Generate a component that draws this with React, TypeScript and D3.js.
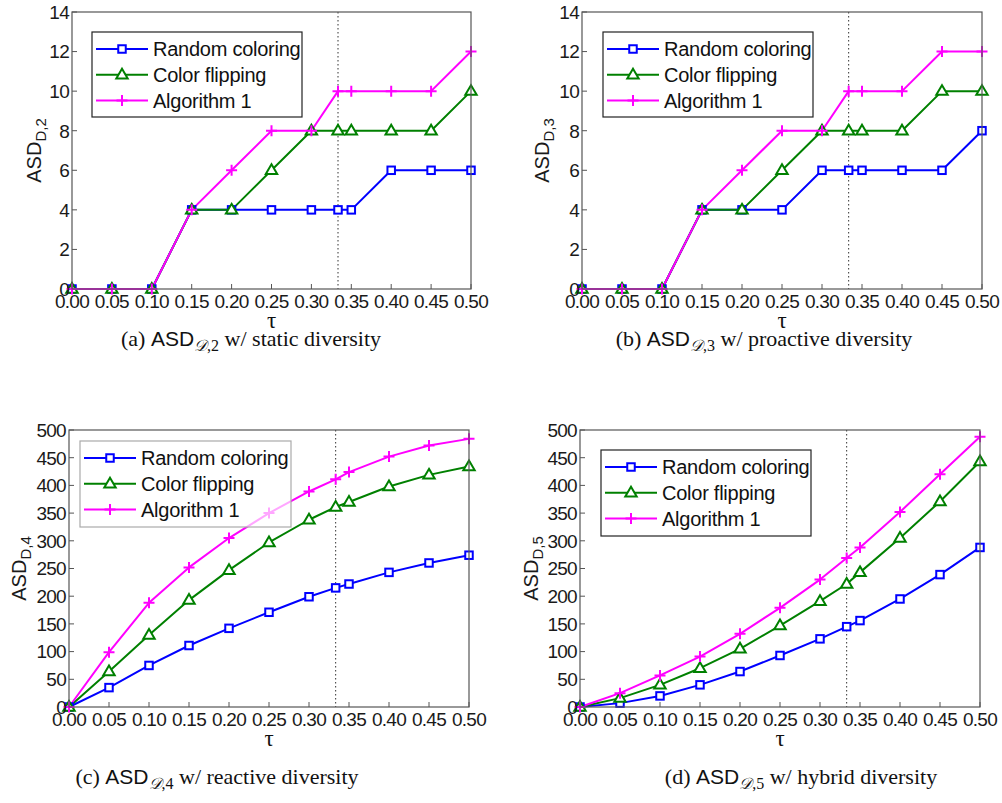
import React from "react";
import * as d3 from "d3";

// tau values at which every scheme was evaluated (1/3 is the marked threshold)
const TAU = [0, 0.05, 0.1, 0.15, 0.2, 0.25, 0.3, 1 / 3, 0.35, 0.4, 0.45, 0.5];
const X_TICKS = [0, 0.05, 0.1, 0.15, 0.2, 0.25, 0.3, 0.35, 0.4, 0.45, 0.5];
const THRESHOLD = 1 / 3;

const SERIES_NAMES = ["Random coloring", "Color flipping", "Algorithm 1"];
const SERIES_COLORS = ["#0000ff", "#008000", "#ff00ff"];
const SERIES_MARKERS = ["square", "triangle", "plus"];

// (a) static diversity
const A_RANDOM = [0, 0, 0, 4, 4, 4, 4, 4, 4, 6, 6, 6];
const A_FLIP = [0, 0, 0, 4, 4, 6, 8, 8, 8, 8, 8, 10];
const A_ALGO = [0, 0, 0, 4, 6, 8, 8, 10, 10, 10, 10, 12];

// (b) proactive diversity
const B_RANDOM = [0, 0, 0, 4, 4, 4, 6, 6, 6, 6, 6, 8];
const B_FLIP = [0, 0, 0, 4, 4, 6, 8, 8, 8, 8, 10, 10];
const B_ALGO = [0, 0, 0, 4, 6, 8, 8, 10, 10, 10, 12, 12];

// (c) reactive diversity
const C_RANDOM = [0, 35, 75, 111, 142, 171, 199, 215, 222, 243, 260, 274];
const C_FLIP = [0, 64, 130, 193, 247, 297, 338, 361, 370, 398, 419, 434];
const C_ALGO = [0, 99, 188, 252, 305, 350, 389, 411, 424, 452, 472, 484];

// (d) hybrid diversity
const D_RANDOM = [0, 7, 20, 40, 64, 93, 123, 145, 156, 195, 239, 288];
const D_FLIP = [0, 16, 40, 70, 105, 147, 191, 222, 243, 305, 371, 443];
const D_ALGO = [0, 25, 57, 91, 132, 179, 230, 269, 288, 352, 420, 488];

const SMALL_Y_TICKS = [0, 2, 4, 6, 8, 10, 12, 14];
const LARGE_Y_TICKS = [0, 50, 100, 150, 200, 250, 300, 350, 400, 450, 500];

const SANS = "'Liberation Sans', Arial, Helvetica, sans-serif";
const SERIF = "'Liberation Serif', 'Times New Roman', serif";

type PanelSpec = {
  box: { left: number; top: number; right: number; bottom: number };
  yMax: number;
  yTicks: number[];
  series: number[][];
  sub: string;
  yLabelX: number;
  legend: { x: number; y: number; w: number; h: number; soft: boolean };
  caption: { letter: string; sub: string; text: string; cx: number; y: number };
};

const PANELS: PanelSpec[] = [
  {
    box: { left: 72, top: 12, right: 471, bottom: 289 },
    yMax: 14,
    yTicks: SMALL_Y_TICKS,
    series: [A_RANDOM, A_FLIP, A_ALGO],
    sub: "D,2",
    yLabelX: 35,
    legend: { x: 92, y: 32, w: 210, h: 85, soft: false },
    caption: { letter: "(a)", sub: "2", text: "w/ static diversity", cx: 251, y: 346 },
  },
  {
    box: { left: 582, top: 12, right: 982, bottom: 289 },
    yMax: 14,
    yTicks: SMALL_Y_TICKS,
    series: [B_RANDOM, B_FLIP, B_ALGO],
    sub: "D,3",
    yLabelX: 543,
    legend: { x: 603, y: 32, w: 210, h: 85, soft: false },
    caption: { letter: "(b)", sub: "3", text: "w/ proactive diversity", cx: 764, y: 346 },
  },
  {
    box: { left: 69, top: 430, right: 469, bottom: 707 },
    yMax: 500,
    yTicks: LARGE_Y_TICKS,
    series: [C_RANDOM, C_FLIP, C_ALGO],
    sub: "D,4",
    yLabelX: 20,
    legend: { x: 80, y: 441, w: 211, h: 86, soft: true },
    caption: { letter: "(c)", sub: "4", text: "w/ reactive diversity", cx: 217, y: 784 },
  },
  {
    box: { left: 580, top: 430, right: 980, bottom: 707 },
    yMax: 500,
    yTicks: LARGE_Y_TICKS,
    series: [D_RANDOM, D_FLIP, D_ALGO],
    sub: "D,5",
    yLabelX: 532,
    legend: { x: 601, y: 450, w: 210, h: 86, soft: false },
    caption: { letter: "(d)", sub: "5", text: "w/ hybrid diversity", cx: 801, y: 784 },
  },
];

function Marker({ kind, x, y, color }: { kind: string; x: number; y: number; color: string }) {
  if (kind === "square") {
    const s = 7.5;
    return (
      <rect x={x - s / 2} y={y - s / 2} width={s} height={s} fill="#fff" stroke={color} strokeWidth={2} />
    );
  }
  if (kind === "triangle") {
    const r = 6;
    const pts = [
      [x, y - r],
      [x + r * 0.95, y + r * 0.62],
      [x - r * 0.95, y + r * 0.62],
    ]
      .map((p) => p.join(","))
      .join(" ");
    return <polygon points={pts} fill="#fff" stroke={color} strokeWidth={2} strokeLinejoin="miter" />;
  }
  const r = 5.5;
  return (
    <path d={`M${x - r},${y}H${x + r}M${x},${y - r}V${y + r}`} stroke={color} strokeWidth={2} fill="none" />
  );
}

function Panel({ spec }: { spec: PanelSpec }) {
  const { box } = spec;
  const x = d3.scaleLinear().domain([0, 0.5]).range([box.left, box.right]);
  const y = d3.scaleLinear().domain([0, spec.yMax]).range([box.bottom, box.top]);
  const fmtX = d3.format(".2f");
  const line = d3
    .line<number>()
    .x((_, i) => x(TAU[i]))
    .y((v) => y(v));
  const axisColor = "#555";
  const midY = (box.top + box.bottom) / 2;
  const lg = spec.legend;
  const cap = spec.caption;

  return (
    <g>
      <rect
        x={box.left}
        y={box.top}
        width={box.right - box.left}
        height={box.bottom - box.top}
        fill="#fff"
        stroke="none"
      />
      {/* threshold marker */}
      <line
        x1={x(THRESHOLD)}
        x2={x(THRESHOLD)}
        y1={box.top}
        y2={box.bottom}
        stroke="#333"
        strokeWidth={1}
        strokeDasharray="1.5,2.5"
      />
      {/* ticks */}
      {X_TICKS.map((t) => (
        <line key={"xt" + t} x1={x(t)} x2={x(t)} y1={box.bottom} y2={box.bottom - 5} stroke={axisColor} />
      ))}
      {spec.yTicks.map((t) => (
        <line key={"yt" + t} x1={box.left} x2={box.left + 5} y1={y(t)} y2={y(t)} stroke={axisColor} />
      ))}
      {/* series */}
      {spec.series.map((vals, si) => (
        <path
          key={"l" + si}
          d={line(vals) || ""}
          fill="none"
          stroke={SERIES_COLORS[si]}
          strokeWidth={2}
          strokeLinejoin="round"
        />
      ))}
      {spec.series.map((vals, si) =>
        vals.map((v, i) => (
          <Marker key={"m" + si + "-" + i} kind={SERIES_MARKERS[si]} x={x(TAU[i])} y={y(v)} color={SERIES_COLORS[si]} />
        ))
      )}
      {/* frame */}
      <rect
        x={box.left}
        y={box.top}
        width={box.right - box.left}
        height={box.bottom - box.top}
        fill="none"
        stroke={axisColor}
        strokeWidth={1.2}
      />
      {/* tick labels */}
      {X_TICKS.map((t) => (
        <text
          key={"xl" + t}
          x={x(t)}
          y={box.bottom + 19}
          textAnchor="middle"
          fontFamily={SANS}
          fontSize={19}
          letterSpacing={-0.7}
          fill="#1a1a1a"
        >
          {fmtX(t)}
        </text>
      ))}
      {spec.yTicks.map((t) => (
        <text
          key={"yl" + t}
          x={box.left - 3}
          y={y(t)}
          dy="0.36em"
          textAnchor="end"
          fontFamily={SANS}
          fontSize={19}
          letterSpacing={-0.7}
          fill="#1a1a1a"
        >
          {t}
        </text>
      ))}
      {/* axis titles */}
      <text
        x={(box.left + box.right) / 2}
        y={box.bottom + 39}
        textAnchor="middle"
        fontFamily={SERIF}
        fontSize={23}
        fill="#111"
      >
        τ
      </text>
      <text
        transform={`translate(${spec.yLabelX + 6},${midY}) rotate(-90)`}
        textAnchor="middle"
        fontFamily={SANS}
        fontSize={20}
        fill="#1a1a1a"
      >
        ASD
        <tspan fontSize={15} dy={5}>
          {spec.sub}
        </tspan>
      </text>
      {/* legend */}
      <rect
        x={lg.x}
        y={lg.y}
        width={lg.w}
        height={lg.h}
        fill="#fff"
        fillOpacity={lg.soft ? 0.65 : 1}
        stroke={lg.soft ? "#aaa" : "#222"}
        strokeWidth={1.2}
      />
      {SERIES_NAMES.map((name, si) => {
        const ry = lg.y + 17 + si * 25.7;
        return (
          <g key={"lg" + si}>
            <line x1={lg.x + 4} x2={lg.x + 56} y1={ry} y2={ry} stroke={SERIES_COLORS[si]} strokeWidth={2} />
            <Marker kind={SERIES_MARKERS[si]} x={lg.x + 30} y={ry} color={SERIES_COLORS[si]} />
            <text x={lg.x + 61} y={ry} dy="0.36em" fontFamily={SANS} fontSize={20} letterSpacing={-0.25} fill="#111">
              {name}
            </text>
          </g>
        );
      })}
      {/* caption */}
      <text x={cap.cx} y={cap.y} textAnchor="middle" fontFamily={SERIF} fontSize={22} fill="#111">
        {cap.letter + " "}
        <tspan fontFamily={SANS} fontSize={21}>
          ASD
        </tspan>
        <tspan fontSize={16} dy={5} fontStyle="italic">
          𝒟
        </tspan>
        <tspan fontSize={16}>{"," + cap.sub}</tspan>
        <tspan dy={-5}>{" " + cap.text}</tspan>
      </text>
    </g>
  );
}

export default function App() {
  return (
    <svg
      width={1002}
      height={803}
      style={{ position: "absolute", left: 0, top: 0, background: "#fff" }}
    >
      <rect width={1002} height={803} fill="#fff" />
      {PANELS.map((p, i) => (
        <Panel key={i} spec={p} />
      ))}
    </svg>
  );
}
